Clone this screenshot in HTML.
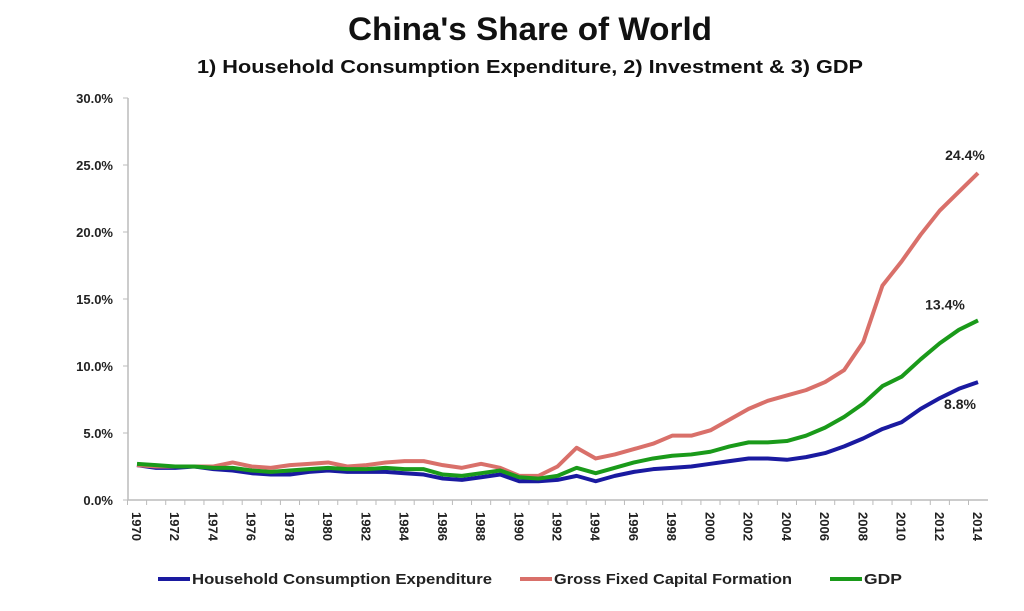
<!DOCTYPE html>
<html><head><meta charset="utf-8"><style>
body{margin:0;background:#fff;font-family:"Liberation Sans",sans-serif;}
</style></head><body>
<svg id="c" width="1024" height="606" xmlns="http://www.w3.org/2000/svg">
<text x="530" y="40" text-anchor="middle" font-size="32" font-weight="bold" fill="#111" textLength="364" lengthAdjust="spacingAndGlyphs">China's Share of World</text>
<text x="530" y="73" text-anchor="middle" font-size="18" font-weight="bold" fill="#111" textLength="666" lengthAdjust="spacingAndGlyphs">1) Household Consumption Expenditure, 2) Investment &amp; 3) GDP</text>
<g id="axes"></g><g id="lines"></g><g id="labels"></g>
</svg>
<script>
const years=[];for(let y=1970;y<=2014;y++)years.push(y);
const hce=[2.6,2.4,2.4,2.5,2.3,2.2,2.0,1.9,1.9,2.1,2.2,2.1,2.1,2.1,2.0,1.9,1.6,1.5,1.7,1.9,1.4,1.4,1.5,1.8,1.4,1.8,2.1,2.3,2.4,2.5,2.7,2.9,3.1,3.1,3.0,3.2,3.5,4.0,4.6,5.3,5.8,6.8,7.6,8.3,8.8];
const gfcf=[2.6,2.5,2.5,2.5,2.5,2.8,2.5,2.4,2.6,2.7,2.8,2.5,2.6,2.8,2.9,2.9,2.6,2.4,2.7,2.4,1.8,1.8,2.5,3.9,3.1,3.4,3.8,4.2,4.8,4.8,5.2,6.0,6.8,7.4,7.8,8.2,8.8,9.7,11.8,16.0,17.8,19.8,21.6,23.0,24.4];
const gdp=[2.7,2.6,2.5,2.5,2.4,2.4,2.2,2.1,2.2,2.3,2.4,2.3,2.3,2.4,2.3,2.3,1.9,1.8,2.0,2.2,1.7,1.6,1.8,2.4,2.0,2.4,2.8,3.1,3.3,3.4,3.6,4.0,4.3,4.3,4.4,4.8,5.4,6.2,7.2,8.5,9.2,10.5,11.7,12.7,13.4];
const yTicks=[0,5,10,15,20,25,30];
const endLabels=["8.8%","24.4%","13.4%"];
const NS="http://www.w3.org/2000/svg";
const X=y=>137+(y-1970)*(978-137)/44;
const Y=v=>500-v*(402/30);
function el(t,a,p){const e=document.createElementNS(NS,t);for(const k in a)e.setAttribute(k,a[k]);p.appendChild(e);return e;}
const ax=document.getElementById('axes'),ln=document.getElementById('lines'),lb=document.getElementById('labels');
let a=el('line',{x1:128,y1:98,x2:128,y2:500,stroke:'#bbb','stroke-width':1.5},ax);


a=el('line',{x1:128,y1:500,x2:988,y2:500,stroke:'#bbb','stroke-width':1.5},ax);


yTicks.forEach(v=>{
 const t=el('text',{x:113,y:Y(v)+5,'text-anchor':'end','font-size':13,'font-weight':'bold',fill:'#222'},ax);t.textContent=v.toFixed(1)+'%';
 
 
 const k=el('line',{x1:123,y1:Y(v),x2:128,y2:Y(v),stroke:'#bbb'},ax);
 
 
});
years.forEach((y,i)=>{
 const k=el('line',{x1:X(y)-9.5,y1:500,x2:X(y)-9.5,y2:505,stroke:'#bbb'},ax);
 
 
 if(i%2==0){const t=el('text',{x:0,y:0,transform:`translate(${X(y)-5},512) rotate(90)`,'font-size':13,'font-weight':'bold',fill:'#222'},ax);t.textContent=y;
 
 }
});
const series=[[hce,'#1a1aa0','household-consumption-line'],[gfcf,'#d9706a','gross-fixed-capital-line'],[gdp,'#1a9a1a','gdp-line']];
series.forEach(([d,c,n],si)=>{
 const p=el('polyline',{points:d.map((v,i)=>X(years[i])+','+Y(v)).join(' '),fill:'none',stroke:c,'stroke-width':4,'stroke-linejoin':'round'},ln);
 
 
});
const lp=[[hce,960,22],[gfcf,965,-18],[gdp,945,-16]];
lp.forEach(([d,x,dy],i)=>{const t=el('text',{x:x,y:Y(d[d.length-1])+dy+5,'text-anchor':'middle','font-size':14,'font-weight':'bold',fill:'#222'},lb);t.textContent=endLabels[i];
 
 });
const leg=[['Household Consumption Expenditure','#1a1aa0',158,300],['Gross Fixed Capital Formation','#d9706a',520,238],['GDP','#1a9a1a',830,38]];
leg.forEach(([s,c,x,w])=>{const g=el('g',{},lb);
 
 
 el('line',{x1:x,y1:579,x2:x+32,y2:579,stroke:c,'stroke-width':4},g);
 const t=el('text',{x:x+34,y:584,'font-size':15,'font-weight':'bold',fill:'#222',textLength:w,lengthAdjust:'spacingAndGlyphs'},g);t.textContent=s;});
</script>
</body></html>
